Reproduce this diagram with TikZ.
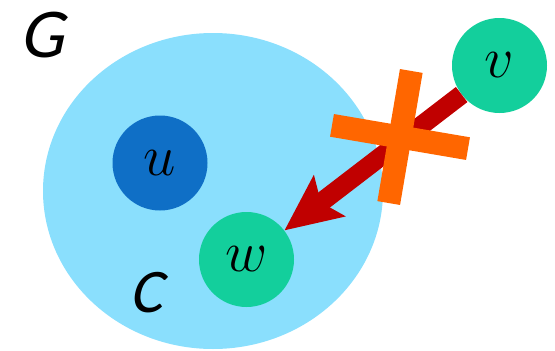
\RequirePackage{fix-cm}
\documentclass[tikz,border=0pt]{standalone}
\usepackage{fontspec}
\newfontfamily\labfont[FakeSlant=0.22]{Carlito}
\usetikzlibrary{arrows.meta,calc}
\definecolor{setblue}{RGB}{138,223,253}
\definecolor{ublue}{RGB}{15,111,198}
\definecolor{vgreen}{RGB}{19,207,156}
\definecolor{edgered}{RGB}{192,0,0}
\definecolor{crossorange}{RGB}{255,102,0}
\begin{document}
\begin{tikzpicture}[x=1pt,y=-1pt,
  vertex/.style={circle,minimum size=95pt,inner sep=0pt,font=\fontsize{58}{58}\selectfont},
  biglabel/.style={font=\labfont\fontsize{70}{70}\selectfont,inner sep=0pt},
  crossbar/.style={fill=crossorange}]
\useasboundingbox (0,0) rectangle (555,351);
\fill[setblue] (213,191) ellipse [x radius=170, y radius=158];
\node[biglabel] (G) at (42,35) {G};
\node[biglabel,font=\labfont\fontsize{62}{62}\selectfont] (C) at (146,293) {C};
\node[vertex,fill=ublue] (u) at (160,163) {$u$};
\node[vertex,fill=vgreen] (w) at (246.5,259.5) {$w$};
\node[vertex,fill=vgreen] (v) at (499.5,65.5) {$v$};
\draw[edgered,line width=19pt,-{Stealth[length=56pt,width=50pt,inset=10pt]}] (v) -- (w);
\coordinate (X) at (400,137);
\begin{scope}[shift={(X)},rotate=-9.7]
\fill[crossbar] (-69,-11.5) rectangle (69,11.5);
\fill[crossbar] (-11.5,-67) rectangle (11.5,67);
\end{scope}
\end{tikzpicture}
\end{document}
